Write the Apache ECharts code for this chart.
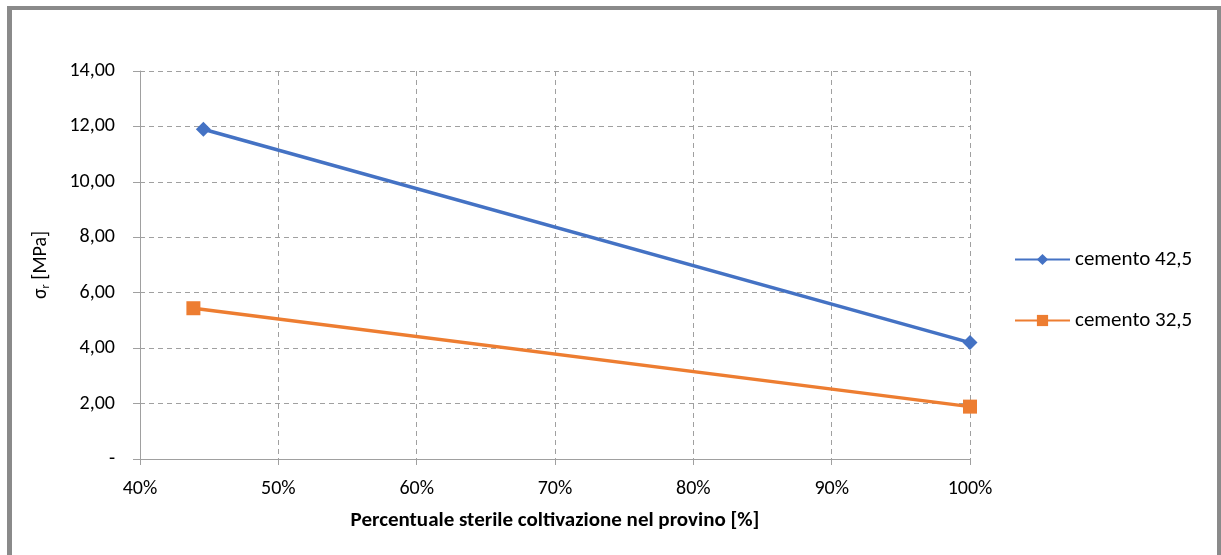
<!DOCTYPE html>
<html>
<head>
<meta charset="utf-8">
<script src="https://cdn.jsdelivr.net/npm/echarts@6/dist/echarts.min.js"></script>
<style>
  html, body { margin: 0; padding: 0; background: #fff; overflow: hidden; }
  #frame {
    position: absolute; left: 7px; top: 6px; width: 1205px; height: 600px;
    border: 4px solid #8a8a8a; border-left-width: 5px; box-sizing: content-box;
  }
  #chart { position: absolute; left: 0; top: 0; width: 1221px; height: 555px; }
</style>
</head>
<body>
<div id="frame"></div>
<div id="chart"></div>
<script>
// Share of barren cultivation material in the specimen (fraction of 1)
const percent42 = [0.4458, 1.00];
const sigma42 = [11.90, 4.20];
const percent32 = [0.4386, 1.00];
const sigma32 = [5.44, 1.89];
const seriesNames = ['cemento 42,5', 'cemento 32,5'];
const xAxisTitle = 'Percentuale sterile coltivazione nel provino [%]';

const FONT = 'Carlito, Lato, "Open Sans", sans-serif';
const gridColor = '#a0a0a0';

const chart = echarts.init(document.getElementById('chart'), null, { renderer: 'canvas' });

chart.setOption({
  animation: false,
  textStyle: { fontFamily: FONT },
  grid: { left: 140, right: 251, top: 71, bottom: 96, containLabel: false },
  legend: {
    orient: 'vertical',
    left: 1009,
    top: 244,
    itemWidth: 55,
    itemHeight: 14,
    itemGap: 40,
    textStyle: { fontSize: 21, color: '#000', fontFamily: FONT },
    data: seriesNames
  },
  xAxis: {
    type: 'value',
    min: 0.4,
    max: 1.0,
    interval: 0.1,
    name: xAxisTitle,
    nameLocation: 'middle',
    nameGap: 51,
    nameTextStyle: { fontSize: 21, fontWeight: 'bold', color: '#000', fontFamily: FONT },
    axisLine: { show: true, lineStyle: { color: gridColor, width: 1 } },
    axisTick: { show: true, length: 6, lineStyle: { color: gridColor } },
    axisLabel: {
      fontSize: 20, color: '#000', margin: 20, fontFamily: FONT,
      formatter: v => Math.round(v * 100) + '%'
    },
    splitLine: { show: true, lineStyle: { color: gridColor, type: [5, 4], width: 1 } }
  },
  yAxis: {
    type: 'value',
    min: 0,
    max: 14,
    interval: 2,
    name: '{s|σ}{sub|r}{s| [MPa]}',
    nameLocation: 'middle',
    nameRotate: 90,
    nameGap: 88,
    nameTextStyle: {
      color: '#000', fontFamily: FONT,
      rich: {
        s: { fontSize: 20, color: '#000', fontFamily: FONT },
        sub: { fontSize: 12, color: '#000', fontFamily: FONT, verticalAlign: 'bottom', padding: [10, 0, 0, 0] }
      }
    },
    axisLine: { show: true, lineStyle: { color: gridColor, width: 1 } },
    axisTick: { show: true, length: 7, lineStyle: { color: gridColor } },
    axisLabel: {
      fontSize: 20, color: '#000', margin: 25, fontFamily: FONT,
      formatter: v => v === 0 ? '-' : v.toFixed(2).replace('.', ',')
    },
    splitLine: { show: true, lineStyle: { color: gridColor, type: [5, 4], width: 1 } }
  },
  series: [
    {
      name: seriesNames[0],
      type: 'line',
      data: percent42.map((x, i) => [x, sigma42[i]]),
      symbol: 'diamond',
      symbolSize: 15,
      lineStyle: { color: '#4472C4', width: 3.5 },
      itemStyle: { color: '#4472C4' }
    },
    {
      name: seriesNames[1],
      type: 'line',
      data: percent32.map((x, i) => [x, sigma32[i]]),
      symbol: 'rect',
      symbolSize: 14,
      lineStyle: { color: '#ED7D31', width: 3.5 },
      itemStyle: { color: '#ED7D31' }
    }
  ]
});
</script>
</body>
</html>
